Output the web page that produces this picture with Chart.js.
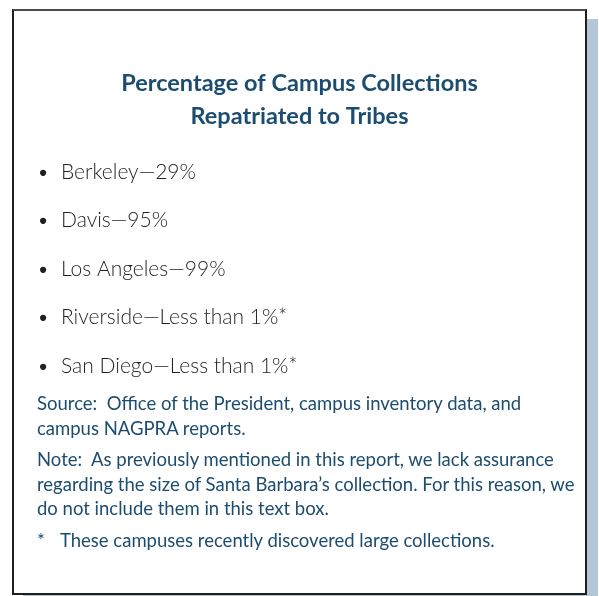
<!DOCTYPE html>
<html>
<head>
<meta charset="utf-8">
<script src="https://cdn.jsdelivr.net/npm/chart.js@4.4.1/dist/chart.umd.min.js"></script>
<style>
  html, body { margin: 0; padding: 0; background: #fff; }
  body { width: 599px; height: 596px; position: relative; overflow: hidden; font-family: Lato, sans-serif; }
  #box {
    position: absolute; left: 12px; top: 9px; width: 575px; height: 586px;
    box-sizing: border-box; border: 2px solid #1e1e1e; border-top-color: #4a4a4a;
    box-shadow: 11px 10px 0 #b3c7d6; background: #fff;
  }
  #chartWrap { position: absolute; left: 12px; top: 9px; width: 575px; height: 397px; }
  #notes {
    position: absolute; left: 37px; top: 391px; width: 548px;
    color: #1c4d70; font-size: 18.5px; line-height: 24.5px; white-space: pre-wrap;
  }
  #notes p { margin: 0 0 7px 0; }
  #notes p.star { padding-left: 23px; text-indent: -23px; }
  #notes p.star span { display: inline-block; width: 23px; text-indent: 0; }
</style>
</head>
<body>
<div id="box"></div>
<div id="chartWrap"><canvas id="chart"></canvas></div>
<div id="notes"></div>

<script>
// chart data
const titleLines = ['Percentage of Campus Collections', 'Repatriated to Tribes'];
const campuses = ['Berkeley', 'Davis', 'Los Angeles', 'Riverside', 'San Diego'];
const percents = [29, 95, 99, 1, 1];
const lessThan = [false, false, false, true, true];   // shown as "Less than 1%*"

const sourceText = 'Source:  Office of the President, campus inventory data, and\ncampus NAGPRA reports.';
const noteText = 'Note:  As previously mentioned in this report, we lack assurance\nregarding the size of Santa Barbara\u2019s collection. For this reason, we\ndo not include them in this text box.';
const starText = 'These campuses recently discovered large collections.';

const blue = '#1c4d70';

// build the list labels
const labels = campuses.map((c, i) => {
    const v = lessThan[i] ? 'Less than ' + percents[i] + '%*' : percents[i] + '%';
    return '\u2022\u2002\u200A' + c + '\u2014' + v;
});

const ctx = document.getElementById('chart').getContext('2d');
new Chart(ctx, {
    type: 'bar',
    data: {
        labels: labels,
        datasets: [{
            data: percents,
            backgroundColor: 'rgba(0,0,0,0)',
            borderWidth: 0
        }]
    },
    options: {
        indexAxis: 'y',
        responsive: true,
        maintainAspectRatio: false,
        animation: false,
        layout: { padding: { top: 0, left: 25, right: 25, bottom: 10 } },
        plugins: {
            legend: { display: false },
            tooltip: { enabled: false },
            title: {
                display: true,
                text: titleLines,
                color: blue,
                font: { family: 'Lato', size: 23.5, weight: 'bold', lineHeight: 1.404 },
                padding: { top: 58, bottom: 15 }
            }
        },
        scales: {
            x: { display: false, min: 0, max: 100 },
            y: {
                grid: { display: false },
                border: { display: false },
                ticks: {
                    autoSkip: false,
                    crossAlign: 'far',
                    color: '#231f20',
                    font: { family: 'Lato', size: 21, weight: '300' }
                }
            }
        }
    }
});

// notes under the list
const notes = document.getElementById('notes');
[sourceText, noteText].forEach(t => {
    const p = document.createElement('p');
    p.textContent = t;
    notes.appendChild(p);
});
const star = document.createElement('p');
star.className = 'star';
const mark = document.createElement('span');
mark.textContent = '*';
star.appendChild(mark);
star.appendChild(document.createTextNode(starText));
notes.appendChild(star);
</script>
</body>
</html>
